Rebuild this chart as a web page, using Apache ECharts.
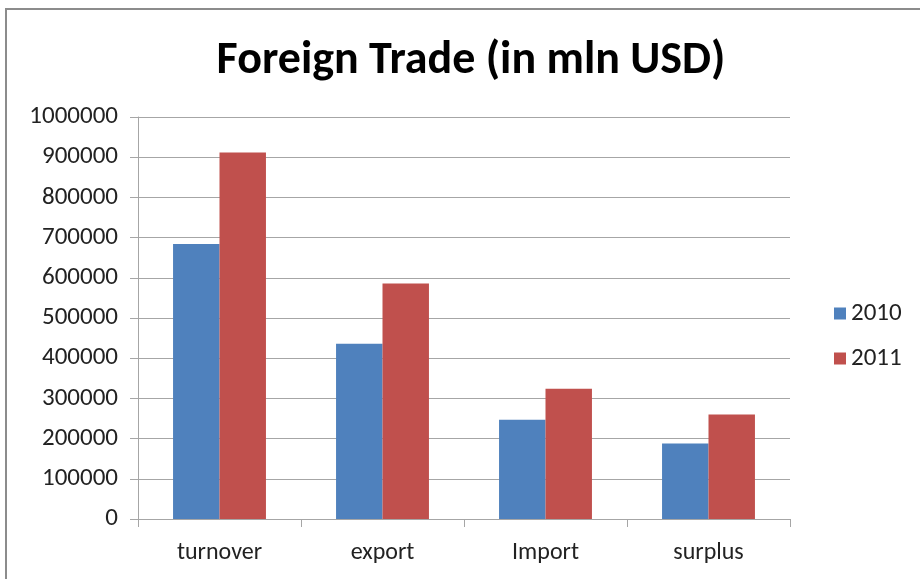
<!DOCTYPE html>
<html>
<head>
<meta charset="utf-8">
<script src="https://cdn.jsdelivr.net/npm/echarts@6/dist/echarts.min.js"></script>
<style>
  html, body { margin: 0; padding: 0; background: #fff; }
  #trade-chart { width: 920px; height: 579px; }
</style>
</head>
<body>
<div id="trade-chart"></div>
<script>
  const categories = ['turnover', 'export', 'Import', 'surplus'];
  const values2010 = [684000, 436000, 247000, 188000];
  const values2011 = [912000, 586000, 324000, 260000];
  const yTicks = [0, 100000, 200000, 300000, 400000, 500000, 600000, 700000, 800000, 900000, 1000000];

  const axisGray = '#a6a6a6';
  const labelFont = 'Carlito, "Open Sans", "Noto Sans", sans-serif';

  const chart = echarts.init(document.getElementById('trade-chart'));

  chart.setOption({
    animation: false,
    graphic: [
      // worksheet frame: top and left edge
      { type: 'line', shape: { x1: 5, y1: 9, x2: 920, y2: 9 }, style: { stroke: '#8c8c8c', lineWidth: 2 } },
      { type: 'line', shape: { x1: 6, y1: 9, x2: 6, y2: 579 }, style: { stroke: '#8c8c8c', lineWidth: 2 } }
    ],
    title: {
      text: 'Foreign Trade (in mln USD)',
      left: 466,
      textAlign: 'center',
      top: 33,
      textStyle: {
        fontFamily: labelFont,
        fontWeight: 'bold',
        fontSize: 46,
        color: '#000'
      }
    },
    legend: {
      orient: 'vertical',
      left: 829,
      top: 296,
      itemWidth: 12,
      itemHeight: 12,
      itemGap: 20,
      icon: 'rect',
      data: ['2010', '2011'],
      textStyle: {
        fontFamily: labelFont,
        fontSize: 25,
        color: '#222'
      }
    },
    grid: {
      left: 138,
      right: 130,
      top: 117,
      bottom: 60,
      containLabel: false
    },
    xAxis: {
      type: 'category',
      data: categories,
      axisLine: { lineStyle: { color: axisGray } },
      axisTick: { show: true, length: 8, lineStyle: { color: axisGray } },
      axisLabel: {
        margin: 22,
        fontFamily: labelFont,
        fontSize: 24,
        color: '#222'
      }
    },
    yAxis: {
      type: 'value',
      min: yTicks[0],
      max: yTicks[yTicks.length - 1],
      interval: yTicks[1] - yTicks[0],
      axisLine: { show: true, lineStyle: { color: axisGray } },
      axisTick: { show: true, length: 8, lineStyle: { color: axisGray } },
      splitLine: { lineStyle: { color: axisGray } },
      axisLabel: {
        margin: 20,
        fontFamily: labelFont,
        fontSize: 25,
        color: '#222',
        formatter: (v) => String(v)
      }
    },
    series: [
      {
        name: '2010',
        type: 'bar',
        data: values2010,
        barGap: '0%',
        barCategoryGap: '43%',
        itemStyle: { color: '#4f81bd' }
      },
      {
        name: '2011',
        type: 'bar',
        data: values2011,
        itemStyle: { color: '#c0504d' }
      }
    ]
  });
</script>
</body>
</html>
